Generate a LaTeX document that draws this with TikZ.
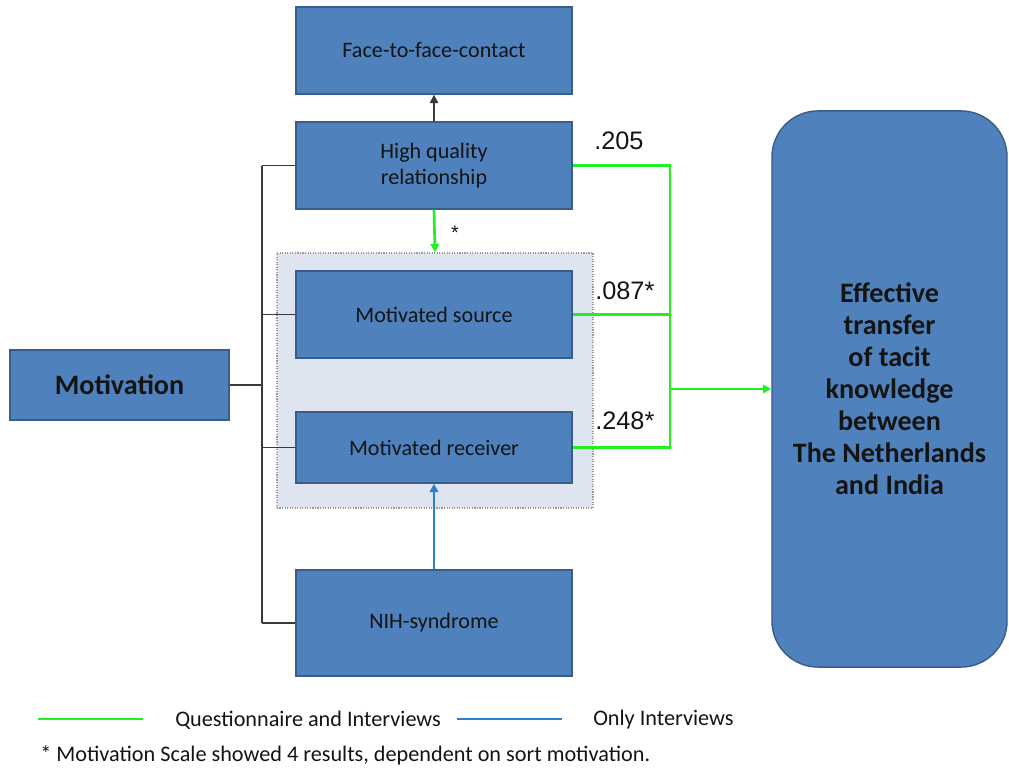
\documentclass[tikz,border=0pt]{standalone}
\usepackage{fontspec}
\setmainfont{Carlito}
\newfontfamily\numfont{Liberation Sans}
\usepackage{tikz}
\usetikzlibrary{positioning,arrows.meta,calc}
\definecolor{boxblue}{HTML}{4F81BD}
\definecolor{boxedge}{HTML}{385D8A}
\definecolor{grpfill}{HTML}{DEE5F0}
\definecolor{grpedge}{HTML}{9A9A9A}
\definecolor{qgreen}{HTML}{22F022}
\definecolor{iblue}{HTML}{2A7FCF}
\definecolor{tiegrey}{HTML}{3A3A3A}
\definecolor{inktext}{HTML}{141414}

\begin{document}
\begin{tikzpicture}[x=0.025cm,y=-0.025cm,
  blk/.style={draw=boxedge,line width=1pt,fill=boxblue,minimum width=6.9cm,minimum height=2.175cm,
    align=center,text=inktext,font=\fontsize{15.7}{18.5}\selectfont,inner sep=0pt},
  tie/.style={draw=tiegrey,line width=1pt},
  qline/.style={draw=qgreen,line width=1.9pt},
  iline/.style={draw=iblue,line width=1.9pt},
  tip/.style={-{Triangle[width=6pt,length=6pt]}},
  coef/.style={font=\numfont\fontsize{18}{20}\selectfont,text=inktext,inner sep=0pt,anchor=west},
  legtxt/.style={font=\fontsize{15.8}{18}\selectfont,text=inktext,anchor=west,inner sep=0pt}
]
\useasboundingbox (0,0) rectangle (1009,769);
% group frame behind the two motivated boxes
\node[draw=grpedge,densely dotted,line width=0.8pt,fill=grpfill,minimum width=7.9cm,minimum height=6.375cm] (grp) at (435,380.5) {};
\node[blk] (face) at (434,50.5) {Face-to-face-contact};
\node[blk] (hq) at (434,165.5) {High quality\\relationship};
\node[blk] (src) at (434,314.5) {Motivated source};
\node[blk,minimum height=1.775cm] (rec) at (434,447.5) {Motivated receiver};
\node[blk,minimum height=2.65cm] (nih) at (434,623) {NIH-syndrome};
\node[blk,minimum width=5.475cm,minimum height=1.75cm,font=\bfseries\fontsize{20}{24}\selectfont] (mot) at (119.5,385) {Motivation};
\node[blk,rounded corners=1.15cm,minimum width=5.875cm,minimum height=13.9cm,
  font=\bfseries\fontsize{20}{22.8}\selectfont] (eff) at (889.5,389)
  {Effective\\transfer\\of tacit\\knowledge\\between\\The Netherlands\\and India};
% black bus from Motivation
\coordinate (bt) at (262,165.5);
\coordinate (bb) at (262,623);
\draw[tie] (bt) -- (bb);
\draw[tie] (mot.east) -- (mot.east -| bt);
\draw[tie] (hq.west) -- (hq.west -| bt);
\draw[tie] (src.west) -- (src.west -| bt);
\draw[tie] (rec.west) -- (rec.west -| bt);
\draw[tie] (nih.west) -- (nih.west -| bt);
\draw[tie,tip] (hq.north) -- (face.south);
% green paths
\coordinate (gj) at (670,165.5);
\draw[qline] (hq.east) -- (hq.east -| gj) -- (rec.east -| gj) -- (rec.east);
\draw[qline] (src.east) -- (src.east -| gj);
\draw[qline,tip] (gj |- eff.west) -- (eff.west);
\draw[qline,tip] (hq.south) -- (grp.north);
\draw[iline,tip] (nih.north) -- (rec.south);
% coefficients
\node[coef] (c205) at (594,141) {.205};
\node[coef] (c087) at (595,291) {.087*};
\node[coef] (c248) at (595,421) {.248*};
\node[coef,anchor=center,font=\numfont\fontsize{14}{16}\selectfont] (cstar) at (455,233) {*};
% legend
\coordinate (lga) at (38,719);
\coordinate (lgb) at (143,719);
\coordinate (lgc) at (457,719);
\coordinate (lgd) at (562,719);
\draw[qline] (lga) -- (lgb);
\draw[iline] (lgc) -- (lgd);
\node[legtxt] (lq) at (175,720) {Questionnaire and Interviews};
\node[legtxt] (li) at (593,720) {Only Interviews};
\node[legtxt] (note) at (40,755) {* Motivation Scale showed 4 results, dependent on sort motivation.};
\end{tikzpicture}
\end{document}
